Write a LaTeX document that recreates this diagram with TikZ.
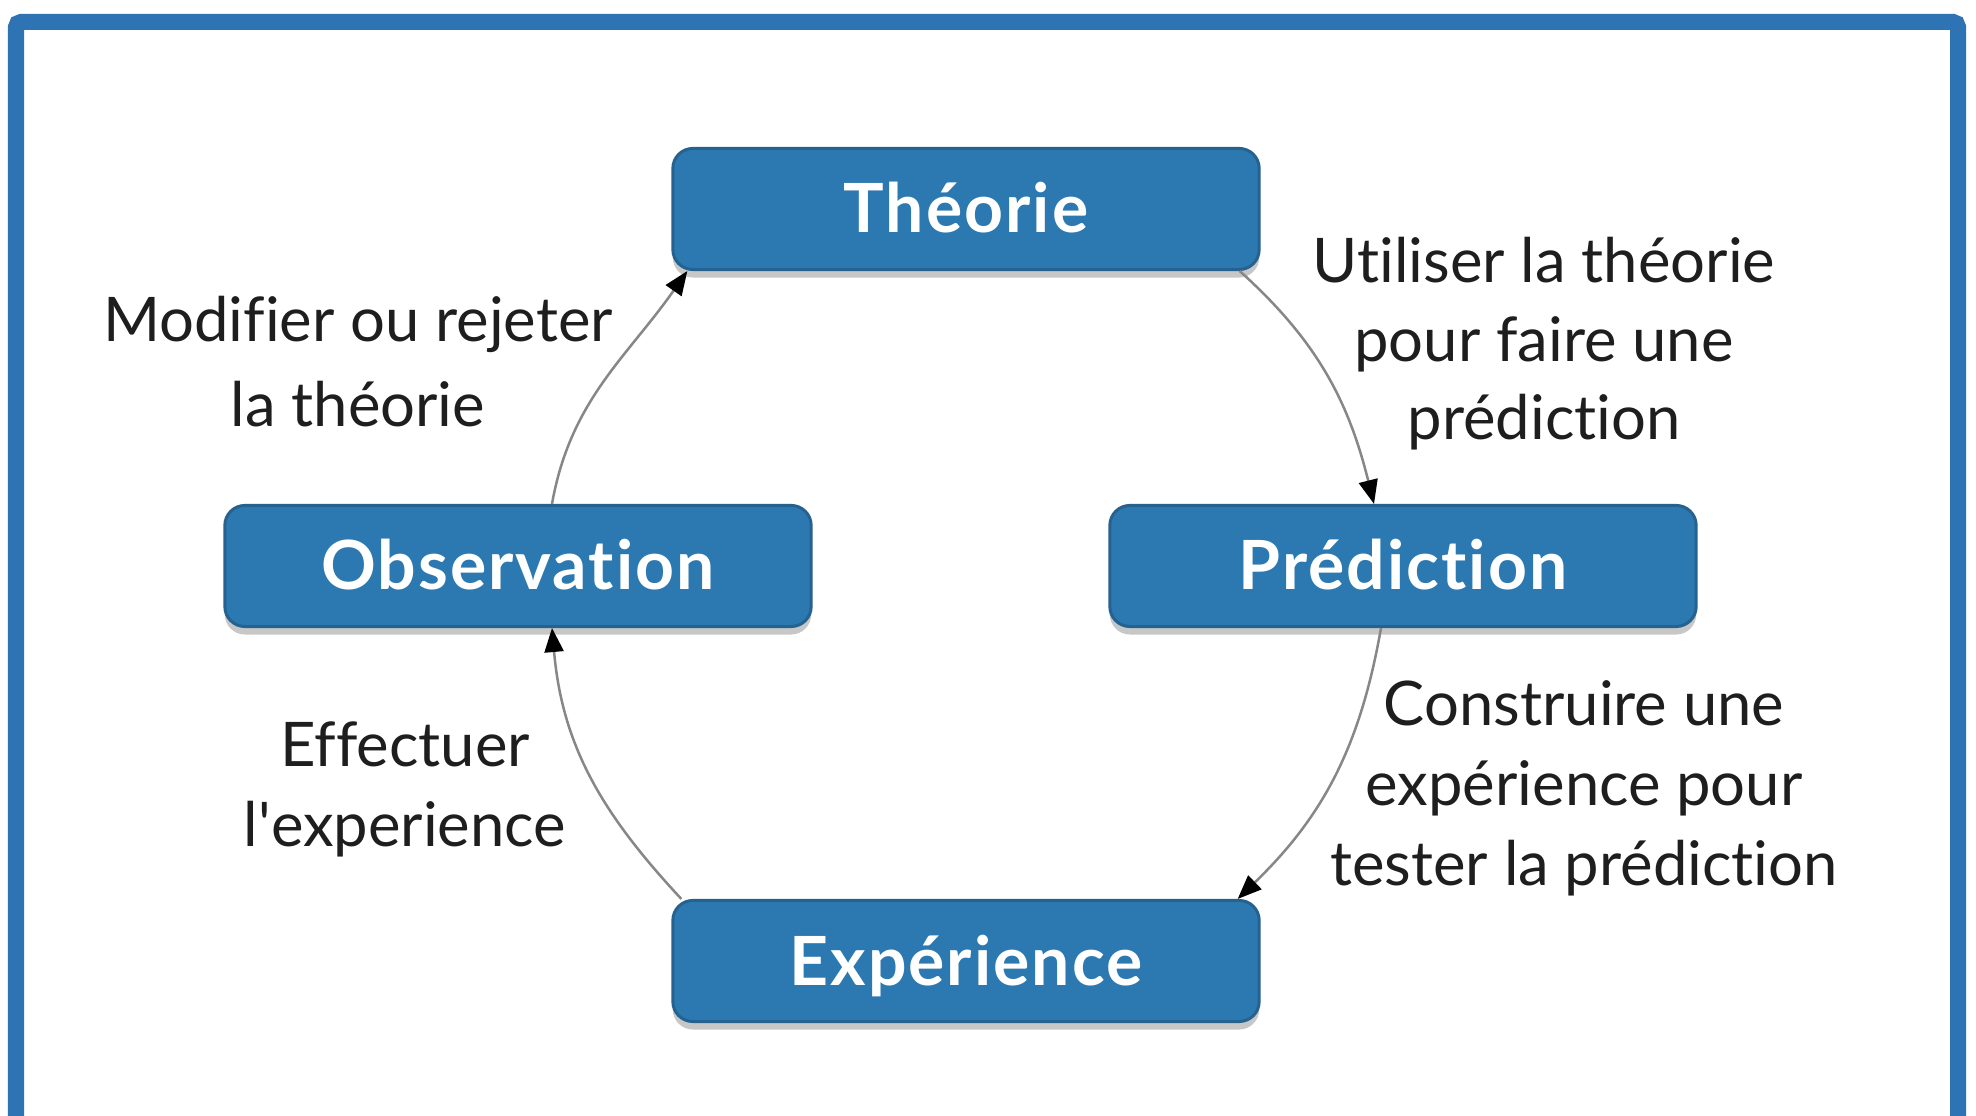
\documentclass[tikz,border=0pt]{standalone}
\usepackage{fontspec}
\setmainfont{Lato}[Ligatures={TeX,NoCommon}]
\usetikzlibrary{arrows.meta,calc,shadows}
\definecolor{frameblue}{RGB}{46,116,181}
\definecolor{boxfill}{RGB}{44,121,177}
\definecolor{boxline}{RGB}{38,98,143}
\definecolor{linkgray}{RGB}{135,135,135}
\definecolor{notetext}{RGB}{30,30,30}
\begin{document}
\begin{tikzpicture}[x=0.01cm,y=0.01cm,
  stage/.style={draw=boxline, line width=0.03cm, fill=boxfill, rounded corners=0.2cm,
    minimum width=5.86cm, minimum height=1.21cm, text=white,
    font=\fontsize{19.3}{22}\selectfont\bfseries\addfontfeatures{LetterSpace=3}, text height=0.48cm, text depth=0pt,
    inner sep=0pt,
    drop shadow={shadow xshift=0pt, shadow yshift=-0.08cm, fill=black!22, opacity=1}},
  note/.style={anchor=base, inner sep=0pt, text=notetext, font=\fontsize{17.5}{22}\selectfont},
  link/.style={draw=linkgray, line width=0.025cm,
    -{Triangle[length=0.24cm,width=0.19cm,color=black]}}
]
\useasboundingbox (0,0) rectangle (1976,1116);
\clip (0,0) rectangle (1976,1116);
\fill[white] (0,0) rectangle (1976,1116);
\draw[frameblue, line width=0.16cm, rounded corners=0.05cm] (16,-10) rectangle (1958,1094);

\node[stage] (theo) at (966,907) {Théorie};
\node[stage] (obs) at (518,550) {Observation};
\node[stage] (pred) at (1403,550) {Prédiction};
\node[stage] (exp) at (966,155) {Expérience};

\draw[link] ($(obs.north)+(34,0)$) to[out=80,in=235] ($(theo.south west)+(16,0)$);
\draw[link] ($(theo.south east)+(-21,0)$) to[out=-42,in=104] ($(pred.north)+(-29,0)$);
\draw[link] ($(pred.south)+(-22,0)$) to[out=-100,in=44] ($(exp.north east)+(-23,0)$);
\draw[link] ($(exp.north west)+(10,0)$) to[out=133,in=-85] ($(obs.south)+(34,0)$);

\node[note] (m1) at (358,774) {Modifier ou rejeter};
\node[note] (m2) at (358,689) {la théorie};
\node[note] (u1) at (1544,833) {Utiliser la théorie};
\node[note] (u2) at (1544,754) {pour faire une};
\node[note] (u3) at (1544,676) {prédiction};
\node[note] (c1) at (1584,390) {Construire une};
\node[note] (c2) at (1584,310) {expérience pour};
\node[note] (c3) at (1584,230) {tester la prédiction};
\node[note] (e1) at (405,349) {Effectuer};
\node[note] (e2) at (405,269) {l\textquotesingle experience};
\end{tikzpicture}
\end{document}
